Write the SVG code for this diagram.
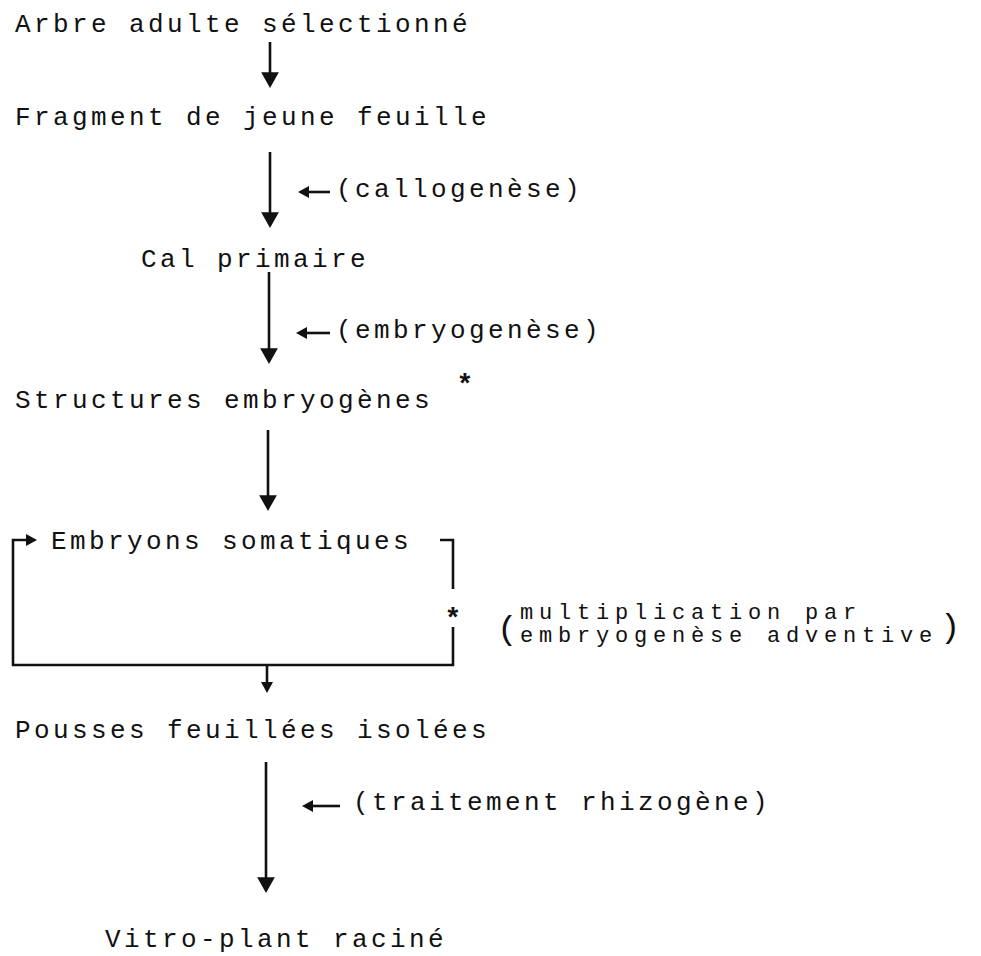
<svg xmlns="http://www.w3.org/2000/svg" width="981" height="956" viewBox="0 0 981 956">
<style>
.t{font-family:"Liberation Mono","Courier New",monospace;font-size:26px;letter-spacing:3.4px;fill:#111}
.s{font-family:"Liberation Mono","Courier New",monospace;font-size:22px;letter-spacing:5.8px;fill:#111}
.a{font-family:"Liberation Mono","Courier New",monospace;font-size:28px;font-weight:bold;fill:#111;text-anchor:middle}
.p{font-family:"Liberation Mono","Courier New",monospace;font-size:34px;fill:#111}
.ln{stroke:#111;stroke-width:2.6;fill:none}
</style>
<defs>
<marker id="head" markerUnits="userSpaceOnUse" markerWidth="20" markerHeight="20" viewBox="0 -9 16 18" refX="6" refY="0" orient="auto">
<path d="M0,-8 L14,0 L0,8 z" fill="#111"/>
</marker>
<marker id="sh" markerUnits="userSpaceOnUse" markerWidth="14" markerHeight="14" viewBox="0 -7 12 14" refX="4" refY="0" orient="auto">
<path d="M0,-6 L11,0 L0,6 z" fill="#111"/>
</marker>
</defs>
<rect width="981" height="956" fill="#fff"/>
<g id="n1"><text class="t" x="15" y="32">Arbre adulte sélectionné</text></g>
<g id="n2"><text class="t" x="15" y="125">Fragment de jeune feuille</text></g>
<g id="n3"><text class="t" x="141" y="267">Cal primaire</text></g>
<g id="n4"><text class="t" x="15" y="408">Structures embryogènes</text><text class="a" x="465" y="393">*</text></g>
<g id="n5"><text class="t" x="51" y="549">Embryons somatiques</text></g>
<g id="n6"><text class="t" x="15" y="738">Pousses feuillées isolées</text></g>
<g id="n7"><text class="t" x="105" y="947">Vitro-plant raciné</text></g>
<g id="l1"><text class="t" x="336" y="197">(callogenèse)</text></g>
<g id="l2"><text class="t" x="336" y="338">(embryogenèse)</text></g>
<g id="l3"><text class="t" x="353" y="810">(traitement rhizogène)</text></g>
<g id="l4">
<text class="a" x="453" y="627">*</text>
<text class="p" x="497" y="639">(</text>
<text class="s" x="520" y="619">multiplication par</text>
<text class="s" x="520" y="642">embryogenèse adventive</text>
<text class="p" x="940" y="637">)</text>
</g>
<g id="connectors">
<path class="ln" d="M270,42 V79" marker-end="url(#head)"/>
<path class="ln" d="M270,152 V219" marker-end="url(#head)"/>
<path class="ln" d="M269,272 V355" marker-end="url(#head)"/>
<path class="ln" d="M268,430 V502" marker-end="url(#head)"/>
<path class="ln" d="M267,665 V686" marker-end="url(#sh)"/>
<path class="ln" d="M266,762 V884" marker-end="url(#head)"/>
<path class="ln" d="M330,192 H305" marker-end="url(#sh)"/>
<path class="ln" d="M330,333 H303" marker-end="url(#sh)"/>
<path class="ln" d="M340,806 H309" marker-end="url(#sh)"/>
<path class="ln" d="M440,540 H453 V589"/>
<path class="ln" d="M453,627 V665 H13 V540 H30" marker-end="url(#sh)"/>
</g>
</svg>
